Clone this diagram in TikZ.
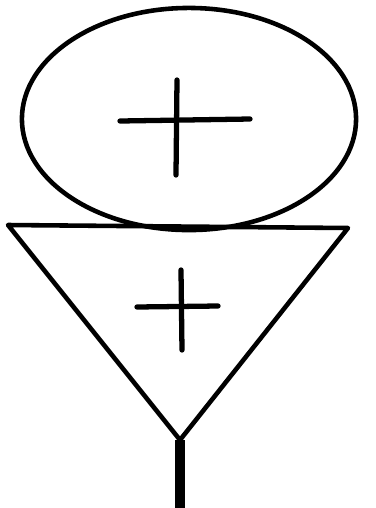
\documentclass[tikz,border=0pt]{standalone}
\usepackage{tikz}
\usetikzlibrary{shapes.geometric}

\tikzset{
  outline/.style={line width=1.3pt, line join=round},
  crossbar/.style={line width=1.5pt, line cap=round},
  stem/.style={line width=2.6pt}
}

\begin{document}
\begin{tikzpicture}[x=0.01cm, y=-0.01cm]
  \useasboundingbox (0,0) rectangle (376,508);
  % Ellipse
  \node[ellipse, draw, outline, inner sep=0pt,
        minimum width=3.34cm, minimum height=2.22cm] (head) at (189,119) {};
  \draw[crossbar] (120,121) -- (250,119);
  \draw[crossbar] (177,80) -- (176,175);
  % Triangle
  \coordinate (tl) at (8,225);
  \coordinate (tr) at (348,228);
  \coordinate (tip) at (180,440);
  \draw[outline] (tl) -- (tr) -- (tip) -- cycle;
  \draw[crossbar] (137,307) -- (218,306);
  \draw[crossbar] (181,270) -- (182,350);
  % Stem
  \coordinate (foot) at (180,508);
  \draw[stem] (tip) -- (foot);
\end{tikzpicture}
\end{document}
